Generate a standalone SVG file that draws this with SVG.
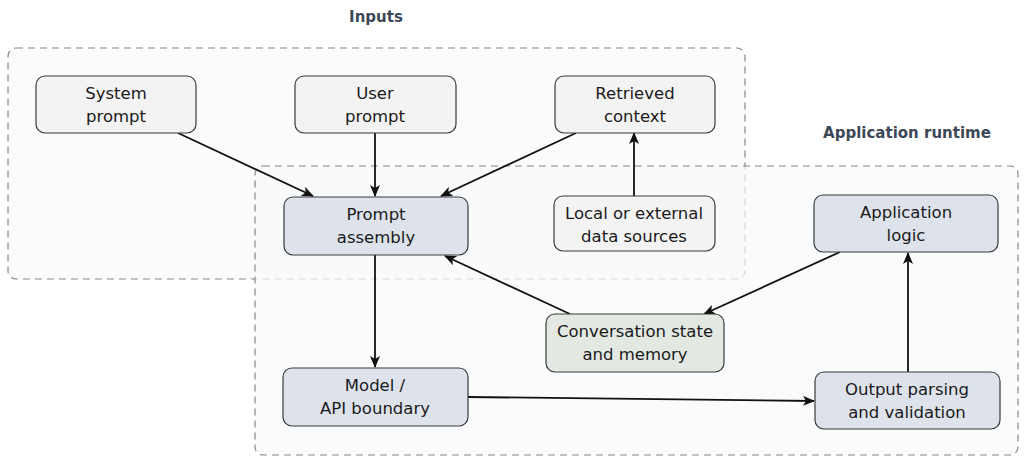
<svg xmlns="http://www.w3.org/2000/svg" width="1025" height="457" viewBox="0 0 1025 457">
  <defs>
    <marker id="arr" viewBox="0 0 12 10" refX="11" refY="5" markerWidth="12" markerHeight="10" markerUnits="userSpaceOnUse" orient="auto">
      <path d="M0,0 L12,5 L0,10 L3,5 Z" fill="#111"/>
    </marker>
  </defs>
  <style>
    .grp { fill: #f8fafb; fill-opacity: 0.7; stroke: #888; stroke-width: 1.2; stroke-dasharray: 7 5; }
    .title { font-family: "DejaVu Sans", sans-serif; font-size: 15px; font-weight: bold; fill: #3c4858; text-anchor: middle; }
    .node { stroke: #3a3a3a; stroke-width: 1.2; }
    .input { fill: #f3f3f3; }
    .runtime { fill: #dee3eb; }
    .state { fill: #e3e8e3; }
    .lbl { font-family: "DejaVu Sans", sans-serif; font-size: 16.5px; fill: #1a1a1a; text-anchor: middle; }
    .edge { stroke: #111; stroke-width: 1.8; fill: none; marker-end: url(#arr); }
  </style>

  <!-- grouping regions -->
  <g id="inputs-region">
    <rect class="grp" x="8" y="48" width="737" height="231" rx="8"/>
    <text class="title" x="376" y="22">Inputs</text>
  </g>
  <g id="runtime-region">
    <rect class="grp" x="255" y="166" width="763" height="289" rx="8"/>
    <text class="title" x="907" y="138">Application runtime</text>
  </g>

  <!-- connectors -->
  <g id="connectors">
    <line class="edge" x1="178" y1="133" x2="313" y2="196"/>
    <line class="edge" x1="375" y1="133" x2="375" y2="196"/>
    <line class="edge" x1="576" y1="133" x2="441" y2="196"/>
    <line class="edge" x1="634" y1="196" x2="634" y2="133"/>
    <line class="edge" x1="375" y1="255" x2="375" y2="367"/>
    <line class="edge" x1="570" y1="314" x2="445" y2="256"/>
    <line class="edge" x1="840" y1="252" x2="704" y2="314"/>
    <line class="edge" x1="468" y1="397" x2="814" y2="401"/>
    <line class="edge" x1="908" y1="372" x2="908" y2="253"/>
  </g>

  <!-- nodes -->
  <g id="system-prompt">
    <rect class="node input" x="36" y="76" width="160" height="57" rx="9"/>
    <text class="lbl" x="116" y="99">System</text>
    <text class="lbl" x="116" y="122">prompt</text>
  </g>
  <g id="user-prompt">
    <rect class="node input" x="295" y="76" width="161" height="57" rx="9"/>
    <text class="lbl" x="375" y="99">User</text>
    <text class="lbl" x="375" y="122">prompt</text>
  </g>
  <g id="retrieved-context">
    <rect class="node input" x="555" y="76" width="160" height="57" rx="9"/>
    <text class="lbl" x="635" y="99">Retrieved</text>
    <text class="lbl" x="635" y="122">context</text>
  </g>
  <g id="prompt-assembly">
    <rect class="node runtime" x="284" y="197" width="184" height="58" rx="9"/>
    <text class="lbl" x="376" y="220">Prompt</text>
    <text class="lbl" x="376" y="243">assembly</text>
  </g>
  <g id="data-sources">
    <rect class="node input" x="554" y="196" width="161" height="55" rx="9"/>
    <text class="lbl" x="634" y="219">Local or external</text>
    <text class="lbl" x="634" y="242">data sources</text>
  </g>
  <g id="application-logic">
    <rect class="node runtime" x="814" y="195" width="184" height="57" rx="9"/>
    <text class="lbl" x="906" y="218">Application</text>
    <text class="lbl" x="906" y="241">logic</text>
  </g>
  <g id="conversation-state">
    <rect class="node state" x="546" y="314" width="178" height="58" rx="9"/>
    <text class="lbl" x="635" y="337">Conversation state</text>
    <text class="lbl" x="635" y="360">and memory</text>
  </g>
  <g id="model-api">
    <rect class="node runtime" x="283" y="368" width="185" height="58" rx="9"/>
    <text class="lbl" x="375" y="391">Model /</text>
    <text class="lbl" x="375" y="414">API boundary</text>
  </g>
  <g id="output-parsing">
    <rect class="node runtime" x="815" y="372" width="185" height="57" rx="9"/>
    <text class="lbl" x="907" y="395">Output parsing</text>
    <text class="lbl" x="907" y="418">and validation</text>
  </g>
</svg>
